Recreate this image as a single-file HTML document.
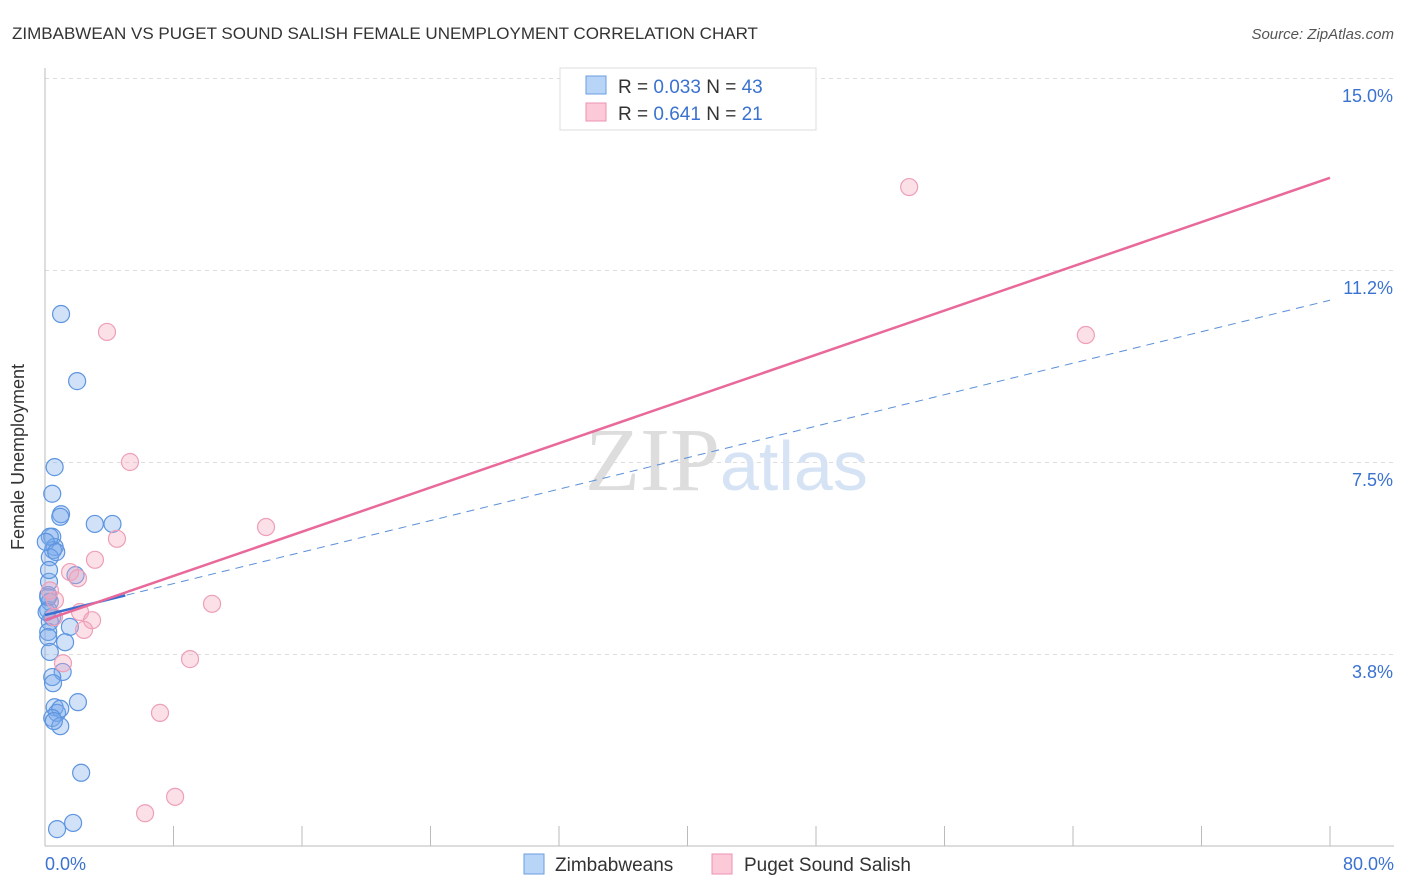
<!DOCTYPE html>
<html><head><meta charset="utf-8"><style>
body{margin:0;background:#fff;font-family:"Liberation Sans",sans-serif;}
svg{display:block}
</style></head><body>
<svg width="1406" height="892">
<text x="12" y="39" font-size="17" fill="#333">ZIMBABWEAN VS PUGET SOUND SALISH FEMALE UNEMPLOYMENT CORRELATION CHART</text>
<text x="1394" y="39" font-size="15" fill="#555" text-anchor="end" font-style="italic">Source: ZipAtlas.com</text>
<g id="grid"></g>
<text x="720" y="490" font-size="90" fill="#ddd" text-anchor="end" font-family="Liberation Serif">ZIP</text>
<text x="720" y="490" font-size="70" fill="#d6e3f5">atlas</text>
<line x1="45" y1="68" x2="45" y2="846" stroke="#bbb"/>
<line x1="45" y1="846" x2="1394" y2="846" stroke="#bbb"/>
<g id="ticks"></g>
<text x="24" y="457" font-size="18" fill="#333" text-anchor="middle" transform="rotate(-90 24 457)">Female Unemployment</text>
<g id="marks"></g>
<g>
<rect x="560" y="68" width="256" height="62" fill="#fff" stroke="#ddd"/>
<rect x="586" y="76" width="20" height="18" fill="#b8d4f6" stroke="#6a9ee0"/>
<rect x="586" y="103" width="20" height="18" fill="#fbc9d8" stroke="#ec92b0"/>
<text x="618" y="93" font-size="19" fill="#333">R = <tspan fill="#3a72d0">0.033</tspan>   N = <tspan fill="#3a72d0">43</tspan></text>
<text x="618" y="120" font-size="19" fill="#333">R =  <tspan fill="#3a72d0">0.641</tspan>   N =  <tspan fill="#3a72d0">21</tspan></text>
</g>
<g>
<rect x="524" y="854" width="20" height="20" fill="#b8d4f6" stroke="#6a9ee0"/>
<text x="555" y="871" font-size="19" fill="#333">Zimbabweans</text>
<rect x="712" y="854" width="20" height="20" fill="#fbc9d8" stroke="#ec92b0"/>
<text x="744" y="871" font-size="19" fill="#333">Puget Sound Salish</text>
</g>
<text x="45" y="870" font-size="18" fill="#3a72d0">0.0%</text>
<text x="1394" y="870" font-size="18" fill="#3a72d0" text-anchor="end">80.0%</text>
</svg>
<script>
const yTicks=[15.0,11.2,7.5,3.8];
const yTickVals=[15,11.25,7.5,3.75];
const blueX=[1,2,0.6,0.45,1,0.95,3.1,4.2,0.45,0.6,0.5,0.3,1.9,0.25,0.2,0.3,0.2,0.45,0.3,1.55,0.2,1.25,0.2,0.3,1.1,0.45,0.5,2.05,0.6,0.75,0.95,0.45,0.95,2.25,0.75,1.75,0.3,0.05,0.2,0.7,0.25,0.55,0.1];
const blueY=[10.39,9.08,7.4,6.88,6.48,6.43,6.29,6.29,6.04,5.84,5.78,5.64,5.29,5.16,4.9,4.77,4.61,4.47,4.38,4.28,4.18,3.98,4.08,3.79,3.4,3.3,3.18,2.81,2.71,2.6,2.68,2.5,2.34,1.43,0.33,0.45,6.04,5.94,4.86,5.74,5.39,2.44,4.57];
const pinkX=[3.86,53.8,64.8,5.29,13.76,4.48,3.11,1.56,2.05,0.62,0.56,2.18,2.93,2.43,10.4,1.12,9.03,7.16,8.1,6.23,0.31];
const pinkY=[10.04,12.87,9.98,7.5,6.23,6.0,5.59,5.35,5.23,4.8,4.47,4.57,4.41,4.22,4.73,3.57,3.65,2.6,0.96,0.64,4.99];
const pinkLine=[4.41,13.05];
const blueLine=[4.51,10.66];
const X0=45,X1=1330,Y0=846;
const sx=v=>X0+v/80*(X1-X0);
const sy=v=>Y0-v*51.2;
const NS="http://www.w3.org/2000/svg";
function mk(t,a,p){const e=document.createElementNS(NS,t);for(const k in a)e.setAttribute(k,a[k]);p.appendChild(e);return e;}
const grid=document.getElementById('grid'),ticks=document.getElementById('ticks'),marks=document.getElementById('marks');
yTickVals.forEach((v,i)=>{
 const l=mk('line',{x1:45,x2:1394,y1:sy(v)+0.5,y2:sy(v)+0.5,stroke:'#ddd','stroke-dasharray':'4,4'},grid);
 
 
 const t=mk('text',{x:1393,y:sy(v)+24,'font-size':18,fill:'#3a72d0','text-anchor':'end'},ticks);
 t.textContent=yTicks[i].toFixed(1)+'%';
 
 
});
for(let i=1;i<=10;i++){
 const x=sx(i*8);
 const l=mk('line',{x1:x,x2:x,y1:826,y2:846,stroke:'#bbb'},ticks);
 
 
}
blueX.forEach((v,i)=>{
 const c=mk('circle',{cx:sx(v),cy:sy(blueY[i]),r:8.5,fill:'rgba(120,170,235,0.35)',stroke:'#5d95e0','stroke-width':1.2},marks);
 
 
});
pinkX.forEach((v,i)=>{
 const c=mk('circle',{cx:sx(v),cy:sy(pinkY[i]),r:8.5,fill:'rgba(245,165,190,0.35)',stroke:'#ee9fb8','stroke-width':1.2},marks);
 
 
});
const bl=mk('line',{x1:sx(0),y1:sy(blueLine[0]),x2:sx(80),y2:sy(blueLine[1]),stroke:'#5a8fd8','stroke-width':1,'stroke-dasharray':'8,6'},marks);


const bs=mk('line',{x1:sx(0),y1:sy(blueLine[0]),x2:sx(5),y2:sy(blueLine[0]+(blueLine[1]-blueLine[0])*5/80),stroke:'#3a6fd0','stroke-width':2.5},marks);


const pl=mk('line',{x1:sx(0),y1:sy(pinkLine[0]),x2:sx(80),y2:sy(pinkLine[1]),stroke:'#e8699a','stroke-width':2.5},marks);


</script>
</body></html>
